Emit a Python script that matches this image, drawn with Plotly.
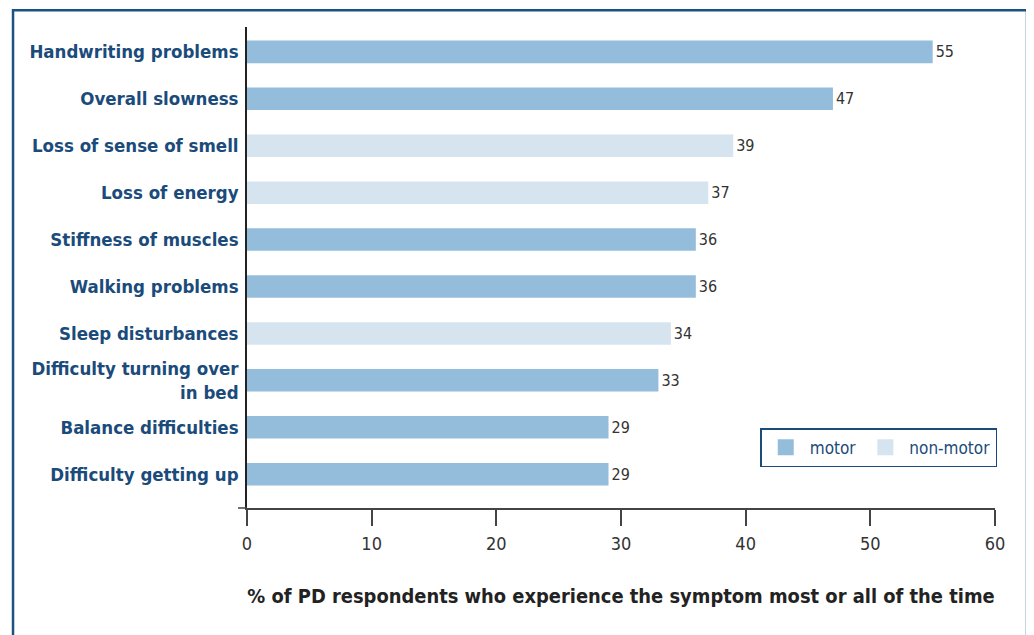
import plotly.graph_objects as go

categories = ["Handwriting problems", "Overall slowness", "Loss of sense of smell",
              "Loss of energy", "Stiffness of muscles", "Walking problems",
              "Sleep disturbances", "Difficulty turning over<br>in bed",
              "Balance difficulties", "Difficulty getting up"]
values = [55, 47, 39, 37, 36, 36, 34, 33, 29, 29]
kind = ["motor", "motor", "non-motor", "non-motor", "motor", "motor",
        "non-motor", "motor", "motor", "motor"]
x_ticks = [0, 10, 20, 30, 40, 50, 60]
x_title = "% of PD respondents who experience the symptom most or all of the time"

colors = {"motor": "#94BCDB", "non-motor": "#D6E4F0"}
FONT = "DejaVu Sans Condensed"
NAVY = "#1A4B7A"

fig = go.Figure()
for k in ["motor", "non-motor"]:
    ys = [c for c, t in zip(categories, kind) if t == k]
    xs = [v for v, t in zip(values, kind) if t == k]
    fig.add_trace(go.Bar(
        y=ys, x=xs, orientation="h", name=k, showlegend=False,
        marker=dict(color=colors[k], line=dict(width=0)),
        width=0.48,
        text=[str(v) for v in xs], textposition="outside",
        textfont=dict(size=16, color="#333333", family=FONT),
        cliponaxis=False,
    ))
# legend entries with large square swatches
for k in ["motor", "non-motor"]:
    fig.add_trace(go.Scatter(
        x=[None], y=[None], mode="markers", name=k,
        marker=dict(symbol="square", size=22, color=colors[k], line=dict(width=0)),
    ))

fig.update_layout(
    width=1034, height=635,
    margin=dict(l=239, r=47, t=19, b=135),
    paper_bgcolor="white", plot_bgcolor="white",
    barmode="overlay",
    font=dict(family=FONT, color="#222222"),
    showlegend=True,
    legend=dict(
        orientation="h", x=1.003, xanchor="right", y=0.166, yanchor="top",
        bordercolor=NAVY, borderwidth=1.5,
        font=dict(size=17, color=NAVY, family=FONT),
        itemsizing="trace", itemwidth=38,
    ),
    xaxis=dict(
        range=[0, 60], tickvals=x_ticks, ticks="outside", ticklen=16,
        tickcolor="#444444", tickwidth=1.5,
        showline=True, linecolor="#444444", linewidth=1.5,
        showgrid=False, zeroline=False, ticklabelstandoff=3,
        tickfont=dict(size=18, color="#333333", family=FONT),
        title=dict(text="<b>" + x_title + "</b>", standoff=36,
                   font=dict(size=19.9, color="#222222", family=FONT)),
    ),
    yaxis=dict(
        type="category", categoryorder="array", categoryarray=categories,
        range=[9.72, -0.53],
        showline=True, linecolor="#222222", linewidth=1.5,
        showgrid=False, zeroline=False, ticks="",
        ticklabelstandoff=3,
        tickfont=dict(size=18.5, color=NAVY, family=FONT),
        tickvals=categories,
        ticktext=["<b>" + c + "</b>" for c in categories],
    ),
)

# small extension of the x-axis line to the left of the y axis
fig.add_shape(type="line", xref="paper", yref="paper",
              x0=-0.012, x1=0, y0=0, y1=0,
              line=dict(color="#444444", width=1.5))

fig.add_shape(type="rect", xref="paper", yref="paper",
              x0=-0.3128, x1=1.0428, y0=-0.35, y1=1.035,
              line=dict(color="#1B5283", width=2.5), fillcolor="rgba(0,0,0,0)")

fig.write_html("out.html")
